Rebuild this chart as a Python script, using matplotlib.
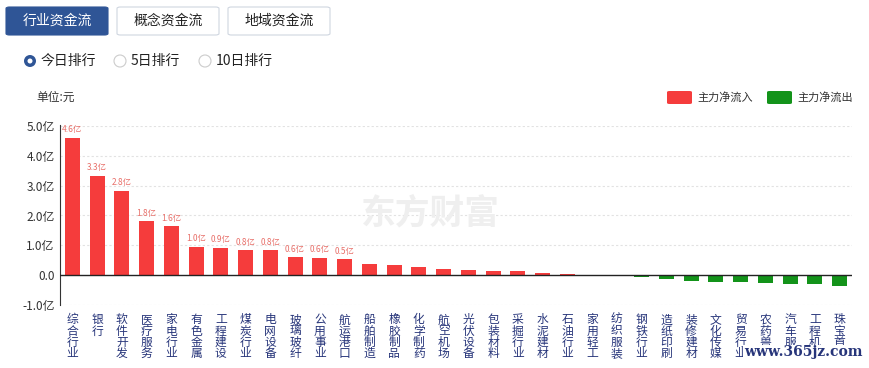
import matplotlib.pyplot as plt
import numpy as np
from matplotlib import patches

plt.rcParams['font.family'] = ['Noto Sans CJK SC', 'DejaVu Sans']

# data: 主力净流入 (亿元)
categories = ['综合行业', '银行', '软件开发', '医疗服务', '家电行业', '有色金属', '工程建设',
              '煤炭行业', '电网设备', '玻璃玻纤', '公用事业', '航运港口', '船舶制造', '橡胶制品',
              '化学制药', '航空机场', '光伏设备', '包装材料', '采掘行业', '水泥建材', '石油行业',
              '家用轻工', '纺织服装', '钢铁行业', '造纸印刷', '装修建材', '文化传媒', '贸易行业',
              '农药兽药', '汽车服务', '工程机械', '珠宝首饰']
values = [4.61, 3.34, 2.83, 1.80, 1.64, 0.96, 0.91, 0.84, 0.84, 0.60, 0.58, 0.53,
          0.37, 0.35, 0.28, 0.19, 0.17, 0.13, 0.13, 0.08, 0.03, 0.006, -0.015,
          -0.05, -0.12, -0.19, -0.22, -0.22, -0.26, -0.30, -0.31, -0.36]
labeled = ['4.6亿', '3.3亿', '2.8亿', '1.8亿', '1.6亿', '1.0亿', '0.9亿', '0.8亿', '0.8亿',
           '0.6亿', '0.6亿', '0.5亿']
yticks = [-1, 0, 1, 2, 3, 4, 5]
ytick_labels = ['-1.0亿', '0.0', '1.0亿', '2.0亿', '3.0亿', '4.0亿', '5.0亿']

RED = '#f53c3c'
GREEN = '#13931a'
W, H = 869, 368

fig = plt.figure(figsize=(W / 100, H / 100), dpi=100)


def px(x, y):
    return x / W, 1 - y / H


# top buttons
for i, (name, active) in enumerate([('行业资金流', True), ('概念资金流', False), ('地域资金流', False)]):
    x0 = 6 + i * 111
    fx, fy = px(x0, 35)
    fig.patches.append(patches.FancyBboxPatch(
        (fx, fy), 102 / W, 28 / H, boxstyle='round,pad=0,rounding_size=0.004',
        transform=fig.transFigure, facecolor='#2f5596' if active else 'white',
        edgecolor='#2f5596' if active else '#cfd6e0', linewidth=0.8))
    fig.text(*px(x0 + 51, 21), name, ha='center', va='center', fontsize=10,
             color='white' if active else '#222222')

# radio buttons
for x_c, x_t, name, on in [(30, 41, '今日排行', True), (120, 131, '5日排行', False),
                           (205, 216, '10日排行', False)]:
    cx, cy = px(x_c, 61)
    if on:
        fig.patches.append(patches.Ellipse((cx, cy), 12 / W, 12 / H, transform=fig.transFigure,
                                           facecolor='#2f5596', edgecolor='none'))
        fig.patches.append(patches.Ellipse((cx, cy), 5 / W, 5 / H, transform=fig.transFigure,
                                           facecolor='white', edgecolor='none'))
    else:
        fig.patches.append(patches.Ellipse((cx, cy), 12 / W, 12 / H, transform=fig.transFigure,
                                           facecolor='white', edgecolor='#cccccc', linewidth=0.8))
    fig.text(*px(x_t, 61), name, ha='left', va='center', fontsize=10, color='#222222')

fig.text(*px(36, 97), '单位:元', ha='left', va='center', fontsize=8.5, color='#333333')

# legend
for x0, color, name in [(667, RED, '主力净流入'), (767, GREEN, '主力净流出')]:
    fx, fy = px(x0, 104)
    fig.patches.append(patches.FancyBboxPatch(
        (fx, fy), 25 / W, 13 / H, boxstyle='round,pad=0,rounding_size=0.003',
        transform=fig.transFigure, facecolor=color, edgecolor='none'))
    fig.text(*px(x0 + 30, 97), name, ha='left', va='center', fontsize=8, color='#333333')

# chart
ax = fig.add_axes([60 / W, 1 - 305 / H, 792 / W, 179 / H])
x = np.arange(len(categories))
colors = [RED if v >= 0 else GREEN for v in values]
ax.bar(x, values, width=0.6, color=colors, zorder=3)
for i, lab in enumerate(labeled):
    ax.text(x[i], values[i] + 0.12, lab, ha='center', va='bottom', fontsize=6,
            color='#e8706a', zorder=4)

ax.set_xlim(-0.5, len(categories) - 0.5)
ax.set_ylim(-1, 5)
ax.set_yticks(yticks)
ax.set_yticklabels(ytick_labels, fontsize=8.5, color='#333333')
for t in yticks:
    if t != 0:
        ax.axhline(t, color='#e2e2e2', lw=0.8, ls=(0, (2, 2)), zorder=1)
ax.axhline(0, color='#222222', lw=1, zorder=4)
ax.set_xticks(x)
ax.set_xticklabels(['\n'.join(c) for c in categories], fontsize=8.5, color='#27357a',
                   linespacing=0.82, va='top')
ax.tick_params(axis='x', length=0, pad=6)
ax.tick_params(axis='y', length=0, pad=4)
for s in ['top', 'right', 'bottom']:
    ax.spines[s].set_visible(False)
ax.spines['left'].set_color('#333333')
ax.spines['left'].set_bounds(-1, 5.05)

# watermarks
fig.text(*px(430, 213), '东方财富', ha='center', va='center', fontsize=25, fontweight='bold',
         color='#efefef', zorder=0)
fig.text(*px(803, 352), 'www.365jz.com', ha='center', va='center', fontsize=10,
         fontweight='bold', family='DejaVu Serif', color='#27357a',
         bbox=dict(facecolor='white', edgecolor='none', pad=0.3))

fig.savefig('out.png', dpi=100, facecolor='white')
